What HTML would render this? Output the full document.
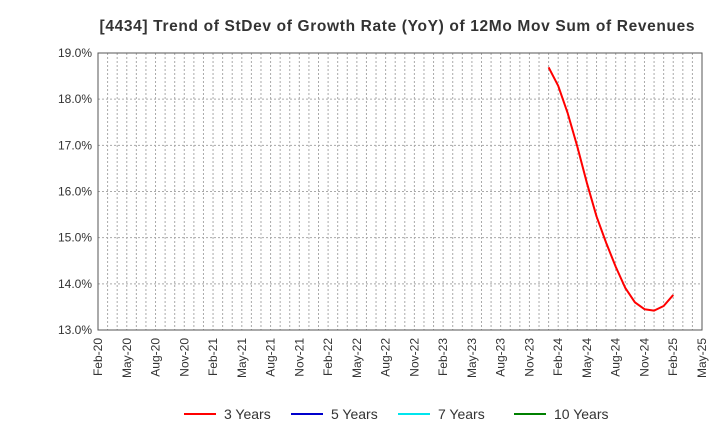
<!DOCTYPE html>
<html><head><meta charset="utf-8"><style>
body{margin:0;background:#fff;font-family:"Liberation Sans",sans-serif}
</style></head><body>
<svg id="chart" width="720" height="440" xmlns="http://www.w3.org/2000/svg"></svg>
<script>
const xLabels=["Feb-20","May-20","Aug-20","Nov-20","Feb-21","May-21","Aug-21","Nov-21","Feb-22","May-22","Aug-22","Nov-22","Feb-23","May-23","Aug-23","Nov-23","Feb-24","May-24","Aug-24","Nov-24","Feb-25","May-25"];
const yTicks=[13,14,15,16,17,18,19];
const series3Months=[47,48,49,50,51,52,53,54,55,56,57,58,59,60];
const series3Values=[18.69,18.29,17.69,16.97,16.18,15.46,14.89,14.37,13.91,13.60,13.45,13.42,13.52,13.76];
const legendNames=["3 Years","5 Years","7 Years","10 Years"];
const legendColors=["#ff0000","#0000cc","#00e5ee","#008000"];

const L=98,R=702,T=53,B=330,NM=63;
const xs=m=>L+(R-L)*m/NM;
const ys=v=>B-(B-T)*(v-13)/6;
const svg=document.getElementById('chart');
const NS="http://www.w3.org/2000/svg";
function mk(t,a,p){const e=document.createElementNS(NS,t);for(const k in a)e.setAttribute(k,a[k]);(p||svg).appendChild(e);return e;}

let t=mk('text',{x:397,y:31,'text-anchor':'middle','font-size':15.5,'font-weight':'bold',fill:'#333',textLength:595,lengthAdjust:'spacing'});
t.textContent="[4434]  Trend of StDev of Growth Rate (YoY) of 12Mo Mov Sum of Revenues";



for(let m=1;m<NM;m++){
  const g=mk('line',{x1:xs(m),x2:xs(m),y1:T,y2:B,stroke:'#aaa','stroke-dasharray':'2,2','stroke-width':1});
  
  
}
yTicks.forEach(v=>{
  const g=mk('line',{x1:L,x2:R,y1:ys(v),y2:ys(v),stroke:'#aaa','stroke-dasharray':'2,2','stroke-width':1});
  
  
  const l=mk('text',{x:L-6,y:ys(v)+4,'text-anchor':'end','font-size':12,fill:'#333'});
  l.textContent=v.toFixed(1)+"%";
  
  
});
xLabels.forEach((s,i)=>{
  const x=xs(i*3);
  const l=mk('text',{transform:`translate(${x+4},${B+8}) rotate(-90)`,'text-anchor':'end','font-size':12,fill:'#333'});
  l.textContent=s;
  
  
});
const f=mk('rect',{x:L,y:T,width:R-L,height:B-T,fill:'none',stroke:'#555','stroke-width':1});



const pts=series3Months.map((m,i)=>xs(m)+','+ys(series3Values[i])).join(' ');
const pl=mk('polyline',{points:pts,fill:'none',stroke:'#ff0000','stroke-width':2,'stroke-linejoin':'round'});



const lx=[184,291,398,514];
legendNames.forEach((n,i)=>{
  const ln=mk('line',{x1:lx[i],x2:lx[i]+32,y1:414,y2:414,stroke:legendColors[i],'stroke-width':2});
  
  
  const tx=mk('text',{x:lx[i]+40,y:419,'font-size':14,fill:'#333'});
  tx.textContent=n;
  
  
});
</script>
</body></html>
